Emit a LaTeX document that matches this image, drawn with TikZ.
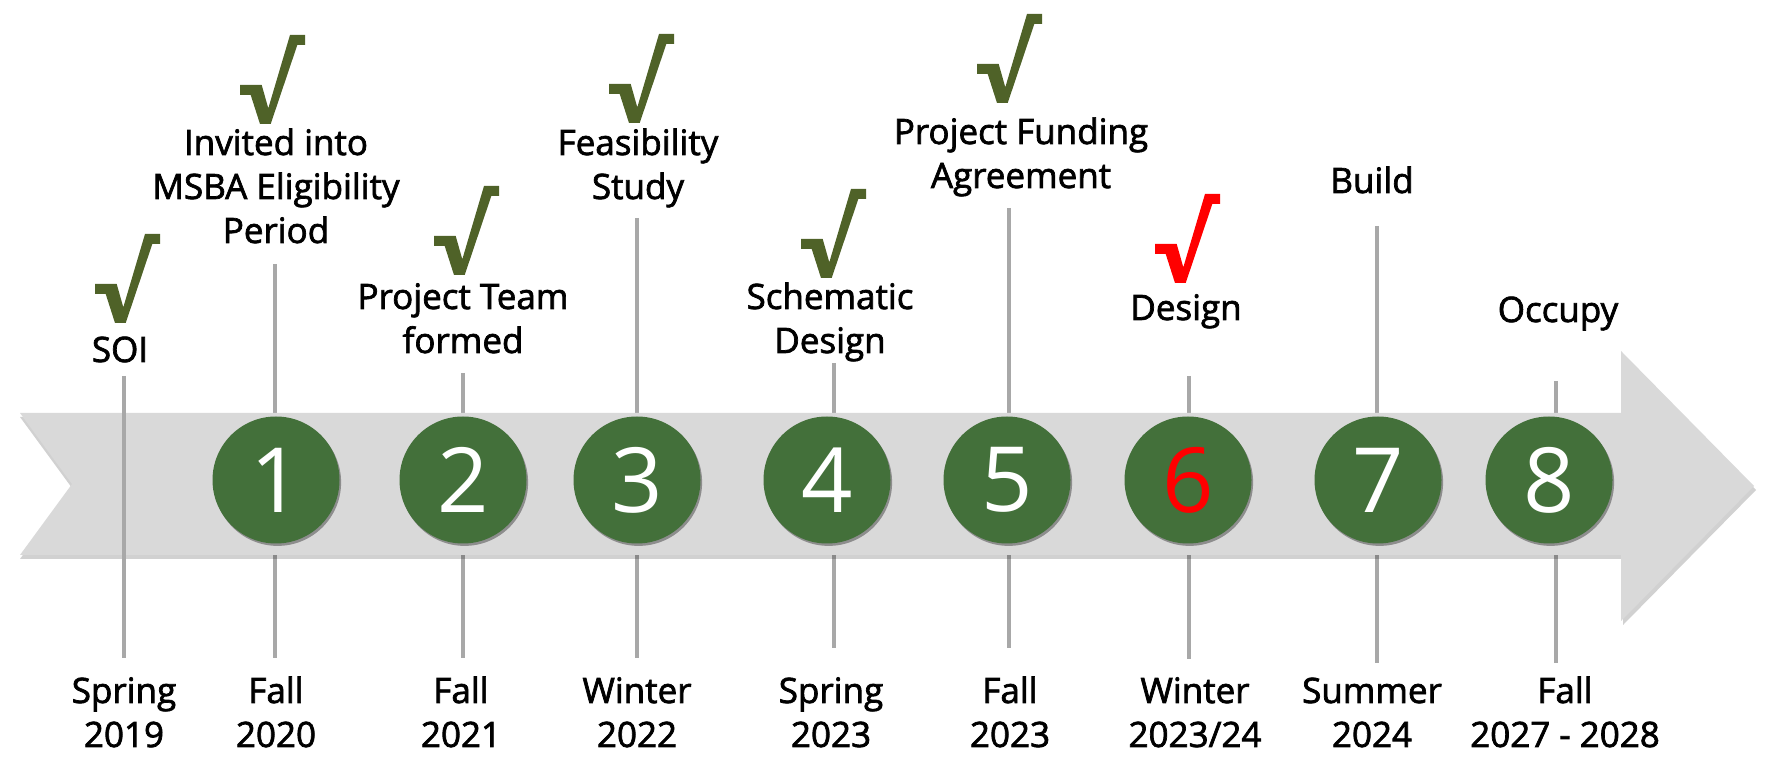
\documentclass[tikz,border=0pt]{standalone}
\usepackage{fontspec}
\setmainfont{Open Sans}
\newfontfamily\lblfont{Open Sans}[FakeBold=2]
\usetikzlibrary{shadows}
\definecolor{bandgray}{HTML}{D9D9D9}
\definecolor{linegray}{HTML}{A8A8A8}
\definecolor{chkgreen}{HTML}{4F6228}
\definecolor{circgreen}{HTML}{43703A}
\definecolor{chkred}{HTML}{FF0000}
\begin{document}
\begin{tikzpicture}[x=0.5pt,y=-0.5pt,
  lbl/.style={anchor=base,align=center,inner sep=0pt,font=\lblfont\fontsize{17.5}{22}\selectfont},
  circ/.style={circle,fill=circgreen,minimum size=63.5pt,inner sep=0pt,text=white,
    font=\fontsize{45}{45}\selectfont,
    drop shadow={shadow xshift=0.8pt,shadow yshift=-1.2pt,opacity=0.35,fill=black}},
  tick/.style={draw=linegray,line width=2.25pt},
  pics/chk/.style={code={\fill[#1] (-25,-39) -- (-3.3,-39) -- (3.3,-15.7) -- (25,-89) -- (40,-89) -- (40,-79) -- (32.3,-79) -- (5.7,0) -- (-5,0) -- (-14.3,-29) -- (-25,-29) -- cycle;}}
]
\useasboundingbox (0,0) rectangle (1767,763);
% line end coordinates
\coordinate (t0) at (124,376); \coordinate (b0) at (124,658);
\coordinate (t1) at (275,264); \coordinate (b1) at (275,658);
\coordinate (t2) at (463,373); \coordinate (b2) at (463,658);
\coordinate (t3) at (637,218); \coordinate (b3) at (637,658);
\coordinate (t4) at (834,363); \coordinate (b4) at (834,648);
\coordinate (t5) at (1009,208); \coordinate (b5) at (1009,648);
\coordinate (t6) at (1189,376); \coordinate (b6) at (1189,659);
\coordinate (t7) at (1377,226); \coordinate (b7) at (1377,663);
\coordinate (t8) at (1556,381); \coordinate (b8) at (1556,663);
% lines behind band
\foreach \i in {1,...,8} {\draw[tick] (t\i) -- (b\i);}
% band arrow
\fill[black,opacity=0.18] (20,417) -- (1623,417) -- (1623,355) -- (1756,490) -- (1623,625) -- (1623,559) -- (20,559) -- (72,488) -- cycle;
\fill[bandgray] (20,413) -- (1621,413) -- (1621,351) -- (1754,486) -- (1621,621) -- (1621,555) -- (20,555) -- (72,484) -- cycle;
% SOI line in front of band
\draw[tick] (t0) -- (b0);
% circles
\node[circ] (c1) at (276,480) {1};
\node[circ] (c2) at (463,480) {2};
\node[circ] (c3) at (637,480) {3};
\node[circ] (c4) at (827,480) {4};
\node[circ] (c5) at (1007,480) {5};
\node[circ,text=chkred] (c6) at (1188,480) {6};
\node[circ] (c7) at (1378,480) {7};
\node[circ] (c8) at (1549,480) {8};
% top labels (anchor = baseline of last line)
\node[lbl] (l0) at (120,362) {SOI};
\node[lbl] (l1) at (276,243) {Invited into\\MSBA Eligibility\\Period};
\node[lbl] (l2) at (463,353) {Project Team\\formed};
\node[lbl] (l3) at (638,199) {Feasibility\\Study};
\node[lbl] (l4) at (830,353) {Schematic\\Design};
\node[lbl] (l5) at (1021,188) {Project Funding\\Agreement};
\node[lbl] (l6) at (1186,320) {Design};
\node[lbl] (l7) at (1372,193) {Build};
\node[lbl] (l8) at (1558,322) {Occupy};
% checks
\pic at (120,323) {chk=chkgreen};
\pic at (265,124) {chk=chkgreen};
\pic at (459,275) {chk=chkgreen};
\pic at (634,123) {chk=chkgreen};
\pic at (826,278) {chk=chkgreen};
\pic at (1002,103) {chk=chkgreen};
\pic at (1180,283) {chk=chkred};
% dates
\node[lbl] (d0) at (124,747) {Spring\\2019};
\node[lbl] (d1) at (276,747) {Fall\\2020};
\node[lbl] (d2) at (461,747) {Fall\\2021};
\node[lbl] (d3) at (637,747) {Winter\\2022};
\node[lbl] (d4) at (831,747) {Spring\\2023};
\node[lbl] (d5) at (1010,747) {Fall\\2023};
\node[lbl] (d6) at (1195,747) {Winter\\2023/24};
\node[lbl] (d7) at (1372,747) {Summer\\2024};
\node[lbl] (d8) at (1565,747) {Fall\\2027 - 2028};
\end{tikzpicture}
\end{document}
